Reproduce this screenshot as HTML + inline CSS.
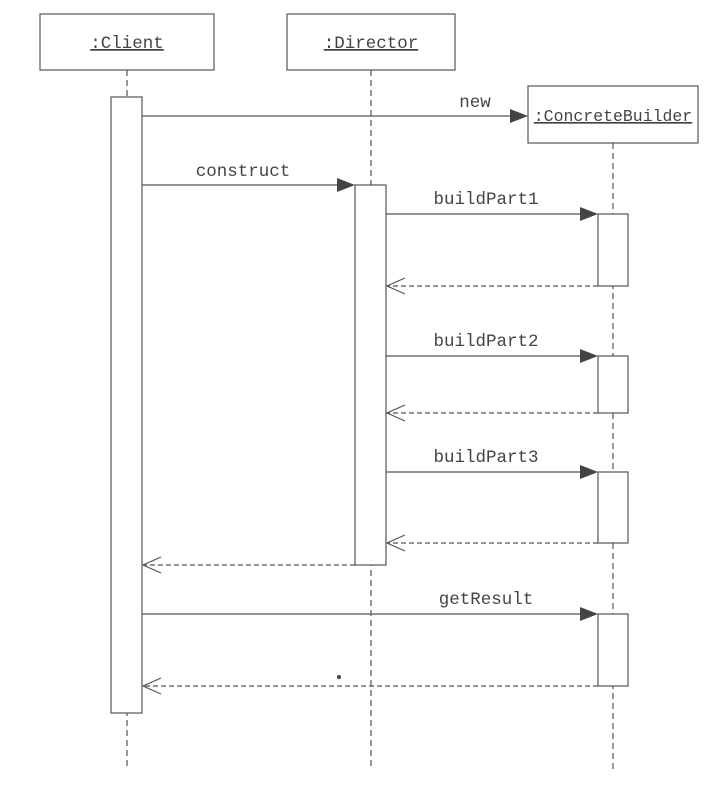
<!DOCTYPE html>
<html><head><meta charset="utf-8"><style>
html,body{margin:0;padding:0;background:#fff;}
svg text{font-family:"Liberation Mono",monospace;font-size:17.5px;fill:#444;}
</style></head><body>
<svg width="718" height="796" viewBox="0 0 718 796" xmlns="http://www.w3.org/2000/svg">
<g stroke="#555" stroke-width="1.2" fill="none">
<line x1="127" y1="70" x2="127" y2="770" stroke-dasharray="6,4"/>
<line x1="371" y1="70" x2="371" y2="770" stroke-dasharray="6,4"/>
<line x1="613" y1="143" x2="613" y2="770" stroke-dasharray="6,4"/>
<rect x="40" y="14" width="174" height="56" fill="#fff"/>
<rect x="287" y="14" width="168" height="56" fill="#fff"/>
<rect x="528" y="86" width="170" height="57" fill="#fff"/>
<rect x="111" y="97" width="31" height="616" fill="#fff"/>
<rect x="355" y="185" width="31" height="380" fill="#fff"/>
<rect x="598" y="214" width="30" height="72" fill="#fff"/>
<rect x="598" y="356" width="30" height="57" fill="#fff"/>
<rect x="598" y="472" width="30" height="71" fill="#fff"/>
<rect x="598" y="614" width="30" height="72" fill="#fff"/>
<line x1="142" y1="116" x2="512" y2="116"/>
<line x1="142" y1="185" x2="340" y2="185"/>
<line x1="386" y1="214" x2="582" y2="214"/>
<line x1="386" y1="356" x2="582" y2="356"/>
<line x1="386" y1="472" x2="582" y2="472"/>
<line x1="142" y1="614" x2="582" y2="614"/>
<g stroke-dasharray="5,3">
<line x1="598" y1="286" x2="387" y2="286"/>
<line x1="598" y1="413" x2="387" y2="413"/>
<line x1="598" y1="543" x2="387" y2="543"/>
<line x1="355" y1="565" x2="143" y2="565"/>
<line x1="598" y1="686" x2="143" y2="686"/>
</g>
<g>
<polyline points="405,278 387,286 405,294"/>
<polyline points="405,405 387,413 405,421"/>
<polyline points="405,535 387,543 405,551"/>
<polyline points="161,557 143,565 161,573"/>
<polyline points="161,678 143,686 161,694"/>
</g>
</g>
<g fill="#444">
<polygon points="510,109 528,116 510,123"/>
<polygon points="337,178 355,185 337,192"/>
<polygon points="580,207 598,214 580,221"/>
<polygon points="580,349 598,356 580,363"/>
<polygon points="580,465 598,472 580,479"/>
<polygon points="580,607 598,614 580,621"/>
<circle cx="339" cy="677" r="2"/>
</g>
<text x="127" y="48" text-anchor="middle" text-decoration="underline">:Client</text>
<text x="371" y="48" text-anchor="middle" text-decoration="underline">:Director</text>
<text x="613" y="121" text-anchor="middle" text-decoration="underline" style="font-size:16.5px">:ConcreteBuilder</text>
<text x="475" y="107" text-anchor="middle">new</text>
<text x="243" y="176" text-anchor="middle">construct</text>
<text x="486" y="204" text-anchor="middle">buildPart1</text>
<text x="486" y="346" text-anchor="middle">buildPart2</text>
<text x="486" y="462" text-anchor="middle">buildPart3</text>
<text x="486" y="604" text-anchor="middle">getResult</text>
</svg>
</body></html>
